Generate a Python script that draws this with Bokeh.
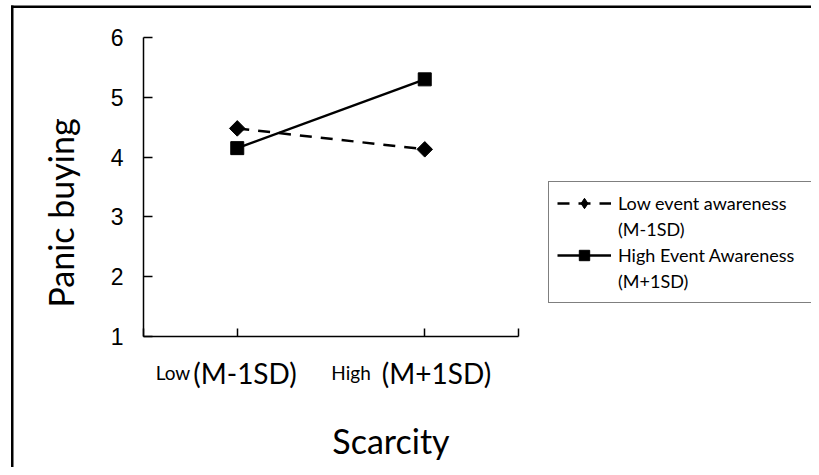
import math
from bokeh.plotting import figure
from bokeh.models import (ColumnDataSource, Range1d, FixedTicker, Legend, LegendItem, Label,
                          LinearAxis, BoxAnnotation)
from bokeh.embed import file_html
from bokeh.resources import INLINE

# ---- data ----
x_positions = [0.5, 1.5]          # Low (M-1SD), High (M+1SD) scarcity
low_awareness = [4.48, 4.13]
high_awareness = [4.15, 5.30]
y_ticks = [1, 2, 3, 4, 5, 6]
x_small = ["Low", "High"]
x_big = ["(M-1SD)", "(M+1SD)"]
legend_lines = [["Low event awareness", "(M-1SD)"], ["High Event Awareness", "(M+1SD)"]]
y_title = "Panic buying"
x_title = "Scarcity"

CAL = "Lato"
W, H = 811, 467

# frame covers the whole canvas; axes are placed at fixed locations
p = figure(width=W, height=H, output_backend="svg", toolbar_location=None,
           x_range=Range1d(-0.7627, 3.5627), y_range=Range1d(-1.1906, 6.6187),
           x_axis_location=None, y_axis_location=None,
           min_border=0, min_border_left=0, min_border_right=0,
           min_border_top=0, min_border_bottom=0)
p.outline_line_color = None
p.grid.visible = False

yaxis = LinearAxis(fixed_location=0, bounds=(1, 6), ticker=FixedTicker(ticks=y_ticks),
                   major_tick_in=9, major_tick_out=0, minor_tick_line_color=None,
                   axis_line_width=1.5, major_tick_line_width=1.5,
                   major_label_standoff=20, major_label_text_font="Liberation Sans",
                   major_label_text_font_size="23px", major_label_text_color="black")
p.add_layout(yaxis, "left")

xaxis = LinearAxis(fixed_location=1, bounds=(0, 2), ticker=FixedTicker(ticks=[0, 0.5, 1.5, 2]),
                   major_tick_in=8, major_tick_out=0, minor_tick_line_color=None,
                   axis_line_width=1.5, major_tick_line_width=1.5,
                   major_label_overrides={0: "", 0.5: "", 1.5: "", 2: ""})
p.add_layout(xaxis, "below")

# outer border (only its left and top edges fall inside the picture);
# screen y for box annotations is measured upward from the bottom of the frame
border_kw = dict(left_units="screen", right_units="screen", top_units="screen",
                 bottom_units="screen", fill_color="black", fill_alpha=1, line_alpha=0)
p.add_layout(BoxAnnotation(left=10.5, right=13, top=H - 5, bottom=-5000, **border_kw))
p.add_layout(BoxAnnotation(left=10.5, right=5000, top=H - 5, bottom=H - 7.5, **border_kw))

# series
src_low = ColumnDataSource(dict(x=x_positions, y=low_awareness))
src_high = ColumnDataSource(dict(x=x_positions, y=high_awareness))

l1 = p.line("x", "y", source=src_low, line_color="black", line_width=2.5, line_dash="12 9")
m1 = p.scatter("x", "y", source=src_low, marker="square", angle=math.pi / 4, size=11,
               fill_color="black", line_color="black")
l2 = p.line("x", "y", source=src_high, line_color="black", line_width=2.5)
m2 = p.scatter("x", "y", source=src_high, marker="square", size=13,
               fill_color="black", line_color="black")

# legend helpers: hidden renderers used only for legend samples
leg_diamond = p.scatter("x", "y", source=src_low, marker="diamond", size=14,
                        fill_color="black", line_color="black", visible=False)
blank = p.line("x", "y", source=src_low, line_alpha=0, visible=False)

legend = Legend(items=[LegendItem(label=legend_lines[0][0], renderers=[l1, leg_diamond]),
                       LegendItem(label=legend_lines[0][1], renderers=[blank]),
                       LegendItem(label=legend_lines[1][0], renderers=[l2, m2]),
                       LegendItem(label=legend_lines[1][1], renderers=[blank])],
                location=(548, 164), border_line_color="black", border_line_width=1.5,
                label_text_font=CAL, label_text_font_size="18px", label_text_color="black",
                glyph_width=54, glyph_height=26, label_height=26, label_standoff=7,
                padding=8, spacing=0, label_width=185, background_fill_alpha=1)
p.add_layout(legend)

# x tick labels (mixed sizes)
small_off = [-47, -54]
big_off = [-44, -43]
for i, xp in enumerate(x_positions):
    p.add_layout(Label(x=xp, y=1, x_offset=small_off[i], y_offset=-36, text=x_small[i],
                       text_align="right", text_baseline="middle", text_font=CAL,
                       text_font_size="19px", text_color="black"))
    p.add_layout(Label(x=xp, y=1, x_offset=big_off[i], y_offset=-36, text=x_big[i],
                       text_align="left", text_baseline="middle", text_font=CAL,
                       text_font_size="28px", text_color="black"))

# axis titles
p.add_layout(Label(x=0, y=3.5, x_offset=-83, y_offset=-26, text=y_title, angle=math.pi / 2,
                   text_align="center", text_baseline="middle", text_font=CAL,
                   text_font_size="34px", text_color="black"))
p.add_layout(Label(x=1, y=1, x_offset=60, y_offset=-104, text=x_title,
                   text_align="center", text_baseline="middle", text_font=CAL,
                   text_font_size="34px", text_color="black"))

open("out.html", "w").write(file_html(p, INLINE))
